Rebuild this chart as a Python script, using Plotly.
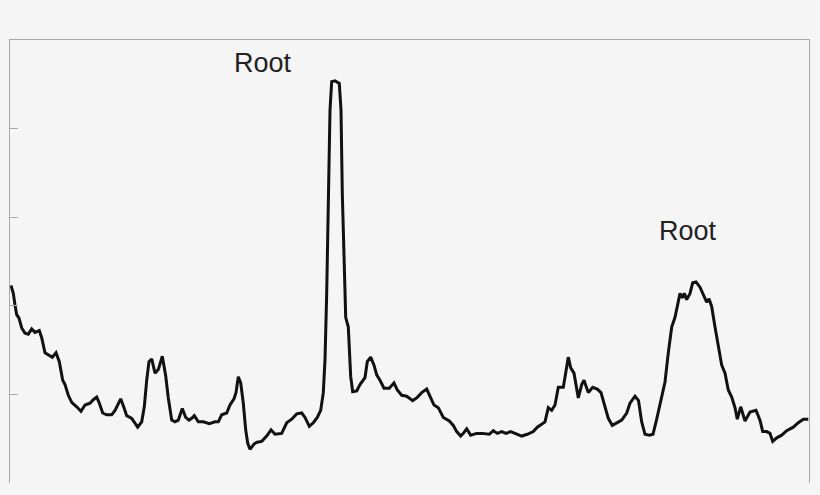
import plotly.graph_objects as go

# Position along the scan (arbitrary units) and signal intensity
position = [
    1, 3.3, 5, 6.7, 9, 11.7, 15, 18.3, 21.7, 25, 29.3, 31.7, 35, 40, 42.3, 46, 49.3, 52.7, 55, 58.3,
    61.7, 66.7, 71, 75, 80, 83.3, 86.7, 89, 92.7, 96.7, 101.7, 105, 110.7, 114, 116.7, 121.7, 124.3, 127.7, 131.7, 134.3,
    136.7, 139, 141.7, 145, 148.3, 152.3, 155.7, 158.3, 161.7, 165, 168.3, 172.3, 175.7, 179, 181.7, 184.3, 188.3, 193.3, 199.3, 205,
    208.3, 211.7, 216.7, 220, 224, 226, 228.3, 230.7, 233.3, 235.7, 237.7, 240, 244, 247, 251.7, 256.7, 261, 265, 271.7, 276.7,
    281.7, 286.7, 291.7, 295, 299.3, 303.3, 307.3, 310.7, 313.3, 315, 316.7, 318.3, 320, 321.7, 325, 329.3, 331, 332.3, 334, 335.7,
    338.3, 340.7, 342.7, 346.7, 350, 352.7, 355, 357.3, 360.7, 364, 366.7, 370, 374, 379.3, 384, 387.3, 391.7, 396.7, 402.7, 406.7,
    411.7, 416.7, 420, 424, 428.3, 433.3, 439.3, 443.3, 446.7, 450.7, 453.3, 456.7, 460.7, 466.7, 471.7, 479.3, 483.3, 487.3, 491.7, 496,
    500.7, 505, 511.7, 517.3, 523.3, 527.3, 531.7, 535, 538.3, 541.7, 545, 548.3, 553.3, 555.7, 558.3, 560.7, 564, 568.3, 571.7, 574,
    578.3, 582.7, 587.3, 591, 595, 598.3, 602.3, 606.7, 611.7, 616.7, 620, 625, 628.5, 631.7, 635, 639.3, 643, 646.7, 651.7, 655,
    658.3, 661.7, 665, 668.3, 670, 672.3, 674.3, 676.7, 680, 682.7, 686, 690, 694, 696.7, 699, 701.7, 705, 708.3, 711.7, 715,
    718.3, 721.7, 725, 727.3, 730.7, 735, 740, 746, 750, 752.7, 756.7, 760, 762.7, 766.7, 771.7, 776.7, 783.3, 788.3, 793.3, 798.3,
]
intensity = [
    2.23, 2.14, 2.01, 1.90, 1.86, 1.75, 1.69, 1.68, 1.74, 1.70, 1.72, 1.64, 1.47, 1.44, 1.42, 1.47, 1.37, 1.16, 1.11, 0.99,
    0.91, 0.86, 0.81, 0.88, 0.90, 0.94, 0.97, 0.91, 0.79, 0.77, 0.77, 0.82, 0.95, 0.85, 0.76, 0.73, 0.69, 0.63, 0.69, 0.86,
    1.16, 1.37, 1.40, 1.24, 1.28, 1.43, 1.21, 0.96, 0.71, 0.69, 0.71, 0.84, 0.74, 0.71, 0.73, 0.76, 0.69, 0.69, 0.67, 0.69,
    0.69, 0.77, 0.79, 0.88, 0.95, 1.02, 1.20, 1.13, 0.90, 0.60, 0.45, 0.38, 0.44, 0.46, 0.47, 0.53, 0.60, 0.55, 0.56, 0.68,
    0.72, 0.78, 0.79, 0.74, 0.64, 0.68, 0.74, 0.82, 1.02, 1.39, 2.14, 3.27, 4.21, 4.53, 4.54, 4.51, 4.21, 3.27, 2.52, 1.87,
    1.76, 1.20, 1.03, 1.04, 1.11, 1.16, 1.19, 1.37, 1.42, 1.33, 1.22, 1.16, 1.07, 1.07, 1.13, 1.05, 0.99, 0.98, 0.93, 0.96,
    1.02, 1.06, 0.97, 0.88, 0.85, 0.74, 0.70, 0.65, 0.58, 0.53, 0.56, 0.61, 0.54, 0.56, 0.56, 0.55, 0.59, 0.56, 0.58, 0.56,
    0.58, 0.56, 0.53, 0.55, 0.58, 0.63, 0.67, 0.69, 0.85, 0.82, 0.88, 1.08, 1.08, 1.25, 1.42, 1.30, 1.24, 0.96, 1.11, 1.16,
    1.02, 1.08, 1.06, 1.02, 0.85, 0.73, 0.65, 0.68, 0.71, 0.79, 0.90, 0.98, 0.93, 0.69, 0.55, 0.54, 0.55, 0.72, 0.97, 1.14,
    1.47, 1.76, 1.87, 2.03, 2.14, 2.09, 2.14, 2.07, 2.14, 2.26, 2.27, 2.21, 2.10, 2.04, 2.08, 1.99, 1.76, 1.53, 1.33, 1.24,
    1.05, 0.97, 0.85, 0.72, 0.86, 0.70, 0.80, 0.82, 0.71, 0.58, 0.58, 0.56, 0.47, 0.51, 0.54, 0.59, 0.63, 0.68, 0.72, 0.72,
]

label_text = ["Root", "Root"]
label_x = [252.5, 678]
label_y = [4.74, 2.84]

y_ticks = [1, 2, 3, 4]

fig = go.Figure()
fig.add_trace(go.Scatter(
    x=position, y=intensity, mode="lines",
    line=dict(color="#111111", width=3),
    hoverinfo="skip", showlegend=False,
))

for t, xv, yv in zip(label_text, label_x, label_y):
    fig.add_annotation(
        x=xv, y=yv, xref="x", yref="y", text=t, showarrow=False,
        xanchor="center", yanchor="middle",
        font=dict(family="Liberation Sans, Arial, sans-serif", size=27, color="#222222"),
    )

fig.update_layout(
    width=820, height=495,
    margin=dict(l=10, r=11, t=40, b=12),
    paper_bgcolor="#f5f5f5",
    plot_bgcolor="#f5f5f5",
    showlegend=False,
    xaxis=dict(
        range=[0, 799], side="top", showline=True, linecolor="#a8a8a8", linewidth=1,
        mirror=False, ticks="", showticklabels=False, showgrid=False, zeroline=False,
    ),
    yaxis=dict(
        range=[0, 5], showline=True, linecolor="#a8a8a8", linewidth=1, mirror=True,
        ticks="inside", ticklen=8, tickcolor="#a8a8a8", tickwidth=1,
        tickvals=y_ticks, showticklabels=False, showgrid=False, zeroline=False,
    ),
)

fig.write_html(
    "out.html",
    config={"displayModeBar": False},
    post_script="document.body.style.margin='0';document.body.style.padding='0';"
                "document.body.style.background='#f5f5f5';",
)
